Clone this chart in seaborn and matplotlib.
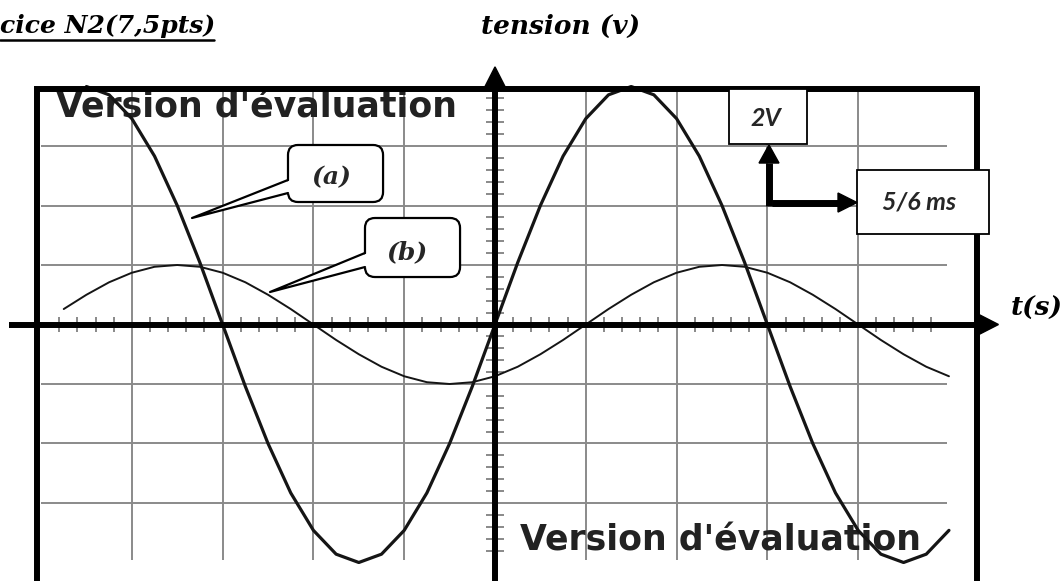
import matplotlib
matplotlib.use("Agg")
import matplotlib.pyplot as plt
from matplotlib.patches import FancyBboxPatch, Polygon, Rectangle
import seaborn as sns

# Signal (a): big sine, read every 1/4 division (x and y in divisions)
t_a = [-4.5, -4.25, -4.0, -3.75, -3.5, -3.25, -3.0, -2.75, -2.5, -2.25,
       -2.0, -1.75, -1.5, -1.25, -1.0, -0.75, -0.5, -0.25, 0.0, 0.25,
       0.5, 0.75, 1.0, 1.25, 1.5, 1.75, 2.0, 2.25, 2.5, 2.75,
       3.0, 3.25, 3.5, 3.75, 4.0, 4.25, 4.5, 4.75, 5.0]
u_a = [4.0, 3.86, 3.46, 2.83, 2.0, 1.04, 0.0, -1.04, -2.0, -2.83,
       -3.46, -3.86, -4.0, -3.86, -3.46, -2.83, -2.0, -1.04, 0.0, 1.04,
       2.0, 2.83, 3.46, 3.86, 4.0, 3.86, 3.46, 2.83, 2.0, 1.04,
       0.0, -1.04, -2.0, -2.83, -3.46, -3.86, -4.0, -3.86, -3.46]

# Signal (b): small sine, shifted by one division
t_b = [-4.75, -4.5, -4.25, -4.0, -3.75, -3.5, -3.25, -3.0, -2.75, -2.5,
       -2.25, -2.0, -1.75, -1.5, -1.25, -1.0, -0.75, -0.5, -0.25, 0.0,
       0.25, 0.5, 0.75, 1.0, 1.25, 1.5, 1.75, 2.0, 2.25, 2.5,
       2.75, 3.0, 3.25, 3.5, 3.75, 4.0, 4.25, 4.5, 4.75, 5.0]
u_b = [0.26, 0.5, 0.71, 0.87, 0.97, 1.0, 0.97, 0.87, 0.71, 0.5,
       0.26, 0.0, -0.26, -0.5, -0.71, -0.87, -0.97, -1.0, -0.97, -0.87,
       -0.71, -0.5, -0.26, 0.0, 0.26, 0.5, 0.71, 0.87, 0.97, 1.0,
       0.97, 0.87, 0.71, 0.5, 0.26, 0.0, -0.26, -0.5, -0.71, -0.87]

grid_x = [-4, -3, -2, -1, 1, 2, 3, 4]
grid_y = [-3, -2, -1, 1, 2, 3]

sns.set_style("white")
plt.rcParams['font.family'] = ['DejaVu Serif', 'DejaVu Sans']

fig = plt.figure(figsize=(10.64, 5.81), dpi=100)
ax = fig.add_axes([0, 0, 1, 1])
ax.set_xlim(-5.452, 6.267)
ax.set_ylim(-4.311, 5.454)
ax.axis('off')

# oscilloscope grid
ax.vlines(grid_x, -3.95, 3.96, color='#8a8a8a', lw=1.4, zorder=1)
ax.hlines(grid_y, -5.0, 4.98, color='#8a8a8a', lw=1.4, zorder=1)

# small ticks every 0.2 div along both axes
sub = [i / 5 for i in range(-24, 25) if i % 5 != 0]
ax.vlines(sub, -0.12, 0.12, color='#808080', lw=1.3, zorder=2)
ax.hlines([s for s in sub if abs(s) < 3.9], -0.095, 0.095, color='#808080', lw=1.3, zorder=2)

# watermarks
wm = dict(family='DejaVu Sans', weight='heavy', fontsize=25, color='#222222', zorder=3)
ax.text(-4.835, 3.487, "Version d'évaluation", ha='left', va='baseline', **wm)
ax.text(0.275, -3.79, "Version d'évaluation", ha='left', va='baseline', **wm)

# the two signals
sns.lineplot(x=t_a, y=u_a, ax=ax, color='#151515', linewidth=2.3, sort=False,
             estimator=None, zorder=4)
sns.lineplot(x=t_b, y=u_b, ax=ax, color='#151515', linewidth=1.4, sort=False,
             estimator=None, zorder=4)

# axes with arrows
ax.plot([0, 0], [-4.5, 4.01], color='k', lw=4.3, solid_capstyle='butt', zorder=5)
ax.add_patch(Polygon([(-0.11, 4.0), (0.11, 4.0), (0, 4.33)], color='k', zorder=5))
ax.plot([-5.35, 5.34], [0, 0], color='k', lw=4.3, solid_capstyle='butt', zorder=5)
ax.add_patch(Polygon([(5.33, -0.168), (5.33, 0.168), (5.545, 0)], color='k', zorder=5))

# screen frame
ax.plot([-5.044, -5.044, 5.314, 5.314], [-4.5, 3.966, 3.966, -4.5], color='k', lw=4.3,
        solid_joinstyle='miter', zorder=6)

# titles
lab = dict(family='DejaVu Serif', weight='bold', style='italic', fontsize=19, color='k')
ax.text(-5.455, 4.899, "cice N2(7,5pts)", ha='left', va='baseline',
        **{**lab, 'fontsize': 18})
ax.plot([-5.452, -3.095], [4.79, 4.79], color='k', lw=1.8)
ax.text(0.727, 4.882, "tension (v)", ha='center', va='baseline', **lab)
ax.text(5.969, 0.277, "t(s)", ha='center', va='center', **lab)


def callout(x0, x1, y0, y1, y_hi, y_lo, tip, label, lx, ly):
    box = FancyBboxPatch((x0, y0), x1 - x0, y1 - y0,
                         boxstyle="round,pad=0,rounding_size=0.11",
                         mutation_aspect=90.8 / 59.5, fc='white', ec='k', lw=1.6, zorder=7)
    ax.add_patch(box)
    ax.add_patch(Polygon([(x0 + 0.03, y_hi), tip, (x0 + 0.03, y_lo)], fc='white',
                         ec='none', zorder=7.1))
    ax.plot([x0, tip[0], x0], [y_hi, tip[1], y_lo], color='k', lw=1.6, zorder=7.2)
    ax.text(lx, ly, label, ha='center', va='center', zorder=7.3,
            family='DejaVu Serif', weight='bold', style='italic', fontsize=18)


callout(-2.280, -1.233, 2.059, 3.017, 2.429, 2.210, (-3.337, 1.790), "(a)", -1.806, 2.479)
callout(-1.432, -0.385, 0.798, 1.790, 1.202, 0.966, (-2.478, 0.546), "(b)", -0.969, 1.218)

# scale boxes
sc = dict(family=['Lato', 'DejaVu Sans'], weight='bold', style='italic', fontsize=18)
ax.add_patch(Rectangle((2.577, 3.034), 0.859, 0.924, fc='white', ec='k', lw=1.3, zorder=8))
ax.text(2.985, 3.454, "2V", ha='center', va='center', zorder=9, **sc)
ax.add_patch(Rectangle((3.987, 1.521), 1.454, 1.076, fc='white', ec='k', lw=1.3, zorder=8))
ax.text(4.67, 2.059, "5/6 ms", ha='center', va='center', zorder=9, **sc)

ax.plot([3.018, 3.018], [2.0, 2.72], color='k', lw=5, solid_capstyle='butt', zorder=8)
ax.add_patch(Polygon([(2.908, 2.714), (3.128, 2.714), (3.018, 3.017)], color='k', zorder=8))
ax.plot([3.05, 3.78], [2.05, 2.05], color='k', lw=5, solid_capstyle='butt', zorder=8)
ax.add_patch(Polygon([(3.778, 1.89), (3.778, 2.21), (3.987, 2.05)], color='k', zorder=8))

fig.savefig("out.png", dpi=100)
